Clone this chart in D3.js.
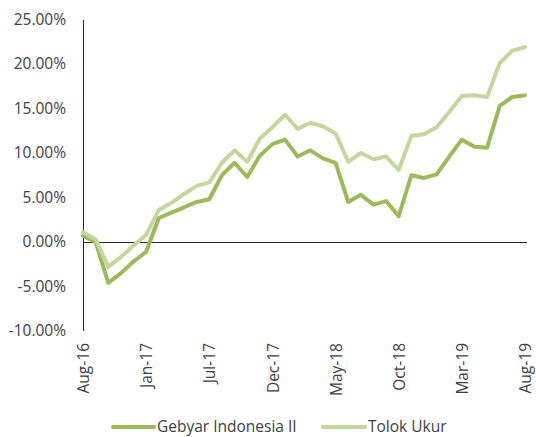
<!DOCTYPE html>
<html>
<head>
<meta charset="utf-8">
<script src="https://cdn.jsdelivr.net/npm/d3@7"></script>
<style>
  html, body { margin: 0; padding: 0; background: #ffffff; }
  svg { display: block; }
  text { font-family: "Open Sans", "Noto Sans", sans-serif; fill: #404040; }
</style>
</head>
<body>
<svg id="chart" width="536" height="437"></svg>
<script>
// ---- data (monthly, Aug-16 .. Aug-19), values in percent ----
const seriesNames = ["Gebyar Indonesia II", "Tolok Ukur"];
const gebyar = [0.7, 0.0, -4.6, -3.5, -2.2, -1.1, 2.7, 3.3, 3.9, 4.5, 4.8, 7.5, 8.9, 7.3, 9.7, 11.0, 11.5, 9.6,
                10.3, 9.4, 8.9, 4.5, 5.3, 4.2, 4.6, 2.9, 7.5, 7.2, 7.6, 9.6, 11.5, 10.7, 10.6, 15.3, 16.3, 16.5];
const tolok  = [1.1, 0.3, -2.8, -1.7, -0.4, 0.8, 3.6, 4.4, 5.4, 6.3, 6.7, 8.9, 10.3, 9.0, 11.6, 12.9, 14.3, 12.7,
                13.4, 13.0, 12.2, 9.0, 10.0, 9.3, 9.6, 8.1, 11.9, 12.1, 12.9, 14.6, 16.4, 16.5, 16.3, 20.1, 21.5, 21.9];
const xTickLabels = ["Aug-16", "Jan-17", "Jul-17", "Dec-17", "May-18", "Oct-18", "Mar-19", "Aug-19"];
const xTickIndex  = [0, 5, 10, 15, 20, 25, 30, 35];
const yTicks = [-10, -5, 0, 5, 10, 15, 20, 25];
const colors = ["#9bbb59", "#c3d69b"];

// ---- layout ----
const svg = d3.select("#chart");
const plotL = 83, plotR = 525, plotT = 19.5, plotB = 331;

const x = d3.scaleLinear().domain([0, gebyar.length - 1]).range([plotL, plotR]);
const y = d3.scaleLinear().domain([-10, 25]).range([plotB, plotT]);

// y axis labels
const yAxis = d3.axisLeft(y).tickValues(yTicks)
  .tickFormat(d => d.toFixed(2) + "%").tickSize(0).tickPadding(17);
const gy = svg.append("g").attr("transform", `translate(${plotL},0)`).call(yAxis);
gy.select(".domain").remove();
gy.selectAll("text").style("font-size", "15.5px").attr("fill", "#404040")
  .style("font-family", "'Open Sans', sans-serif");

// x axis labels (placed at the bottom, rotated)
const xAxis = d3.axisBottom(x).tickValues(xTickIndex)
  .tickFormat((d, i) => xTickLabels[i]).tickSize(0);
const gx = svg.append("g").attr("transform", `translate(0,${plotB})`).call(xAxis);
gx.select(".domain").remove();
gx.selectAll("text")
  .style("font-size", "15.5px")
  .style("font-family", "'Open Sans', sans-serif")
  .attr("fill", "#404040")
  .attr("text-anchor", "end")
  .attr("transform", "rotate(-90)")
  .attr("x", -12)
  .attr("y", 0)
  .attr("dy", "0.36em");

// axis lines
svg.append("line").attr("x1", plotL).attr("x2", plotL)
  .attr("y1", y(25)).attr("y2", y(-10))
  .attr("stroke", "#262626").attr("stroke-width", 1).attr("shape-rendering", "crispEdges");
svg.append("line").attr("x1", plotL).attr("x2", plotR + 2)
  .attr("y1", y(0)).attr("y2", y(0))
  .attr("stroke", "#262626").attr("stroke-width", 1).attr("shape-rendering", "crispEdges");

// lines
const line = d3.line().x((d, i) => x(i)).y(d => y(d));
[gebyar, tolok].forEach((s, k) => {
  svg.append("path").datum(s)
    .attr("d", line)
    .attr("fill", "none")
    .attr("stroke", colors[k])
    .attr("stroke-width", 4)
    .attr("stroke-linejoin", "round")
    .attr("stroke-linecap", "round");
});

// legend
const legendY = 427;
const legendItems = [
  { name: seriesNames[0], color: colors[0], x0: 113, x1: 154, tx: 157 },
  { name: seriesNames[1], color: colors[1], x0: 323, x1: 365, tx: 368 }
];
const lg = svg.append("g");
legendItems.forEach(it => {
  lg.append("line").attr("x1", it.x0).attr("x2", it.x1).attr("y1", legendY).attr("y2", legendY)
    .attr("stroke", it.color).attr("stroke-width", 4).attr("stroke-linecap", "round");
  lg.append("text").attr("x", it.tx).attr("y", legendY).attr("dy", "0.35em")
    .style("font-size", "15.5px").text(it.name);
});
</script>
</body>
</html>
